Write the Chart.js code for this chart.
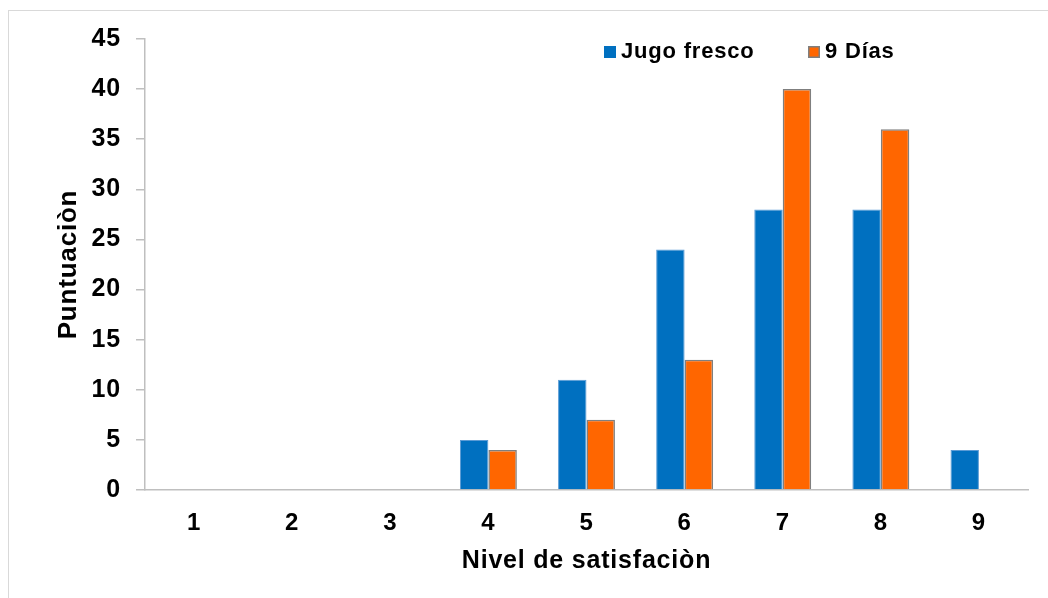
<!DOCTYPE html>
<html>
<head>
<meta charset="utf-8">
<script src="https://cdn.jsdelivr.net/npm/chart.js@4"></script>
<style>
  html, body { margin: 0; padding: 0; background: #fff; }
  #wrap { position: relative; width: 1048px; height: 598px; }
</style>
</head>
<body>
<div id="wrap"><canvas id="c" width="1048" height="598"></canvas></div>
<script>
const categories = ['1', '2', '3', '4', '5', '6', '7', '8', '9'];
const jugoFresco = [0, 0, 0, 5, 11, 24, 28, 28, 4];
const nueveDias = [0, 0, 0, 4, 7, 13, 40, 36, 0];
const seriesNames = ['Jugo fresco', '9 Días'];
const yTitle = 'Puntuaciòn';
const xTitle = 'Nivel de satisfaciòn';

const FONT = '"Liberation Sans", Arial, sans-serif';
const SPACING = '0.8px';

const frameAndLegend = {
  id: 'frameAndLegend',
  beforeInit(chart) { chart.ctx.letterSpacing = SPACING; },
  beforeUpdate(chart) { chart.ctx.letterSpacing = SPACING; },
  beforeDraw(chart) {
    const ctx = chart.ctx;
    ctx.letterSpacing = SPACING;
    ctx.save();
    ctx.fillStyle = '#fff';
    ctx.fillRect(0, 0, chart.width, chart.height);
    ctx.strokeStyle = '#D9D9D9';
    ctx.lineWidth = 1;
    ctx.strokeRect(8.5, 10.5, 1200, 700);
    ctx.restore();
  },
  afterDraw(chart) {
    const ctx = chart.ctx;
    ctx.save();
    ctx.font = 'bold 22px ' + FONT;
    ctx.textBaseline = 'middle';
    ctx.textAlign = 'left';
    const items = [
      { x: 604, color: '#0070C0', border: '#0070C0', text: seriesNames[0] },
      { x: 808, color: '#FF6600', border: '#7F7F7F', text: seriesNames[1] }
    ];
    items.forEach(it => {
      ctx.fillStyle = it.color;
      ctx.fillRect(it.x, 46, 12, 12);
      if (it.border !== it.color) {
        ctx.strokeStyle = it.border;
        ctx.lineWidth = 1.5;
        ctx.strokeRect(it.x + 0.75, 46.75, 10.5, 10.5);
      }
      ctx.fillStyle = '#000';
      ctx.fillText(it.text, it.x + 17, 52);
    });
    ctx.restore();
  }
};

new Chart(document.getElementById('c'), {
  type: 'bar',
  data: {
    labels: categories,
    datasets: [
      {
        label: seriesNames[0],
        data: jugoFresco,
        backgroundColor: '#0070C0',
        borderColor: '#5B9BD5',
        borderWidth: 1,
        barPercentage: 1,
        categoryPercentage: 0.58
      },
      {
        label: seriesNames[1],
        data: nueveDias,
        backgroundColor: '#FF6600',
        borderColor: '#7F7F7F',
        borderWidth: 1.5,
        barPercentage: 1,
        categoryPercentage: 0.58
      }
    ]
  },
  options: {
    responsive: false,
    animation: false,
    devicePixelRatio: 1,
    layout: { padding: { left: 53, top: 39, right: 20, bottom: 22 } },
    plugins: {
      legend: { display: false },
      tooltip: { enabled: false }
    },
    scales: {
      x: {
        grid: { display: true, drawOnChartArea: false, drawTicks: false },
        border: { display: true, color: '#BFBFBF', width: 1.5 },
        ticks: {
          color: '#000',
          font: { family: FONT, size: 24, weight: 'bold' },
          padding: 19,
          maxRotation: 0
        },
        title: {
          display: true,
          text: xTitle,
          color: '#000',
          font: { family: FONT, size: 25, weight: 'bold' },
          padding: 0
        },
        afterFit(scale) { scale.height = 598 - 22 - 490; }
      },
      y: {
        min: 0,
        max: 45,
        ticks: {
          stepSize: 5,
          color: '#000',
          font: { family: FONT, size: 25, weight: 'bold' },
          padding: 15
        },
        grid: { display: true, drawOnChartArea: false, drawTicks: true, tickLength: 9, color: '#BFBFBF', lineWidth: 1.5 },
        border: { display: true, color: '#BFBFBF', width: 1.5 },
        title: {
          display: true,
          text: yTitle,
          color: '#000',
          font: { family: FONT, size: 26, weight: 'bold' },
          padding: 0
        },
        afterFit(scale) { scale.width = 145 - 53; }
      }
    }
  },
  plugins: [frameAndLegend]
});
</script>
</body>
</html>
